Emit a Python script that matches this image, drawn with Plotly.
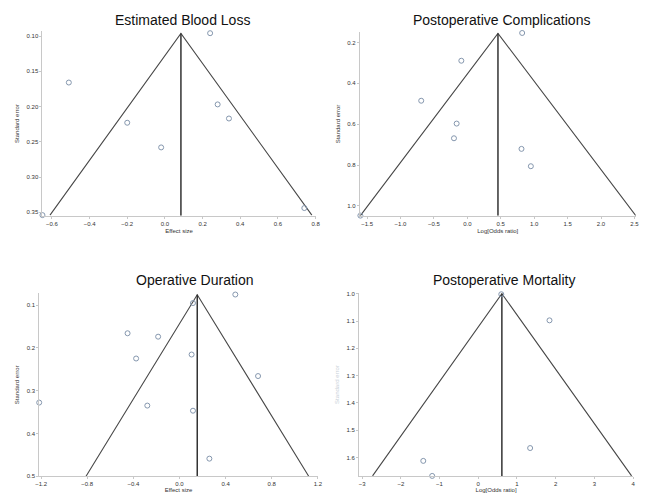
import plotly.graph_objects as go

# ---------------- data ----------------
# Panel 1: Estimated Blood Loss
ebl_effect = [0.24, -0.51, -0.20, -0.02, 0.28, 0.34, 0.74, -0.65]
ebl_se = [0.096, 0.166, 0.223, 0.258, 0.197, 0.217, 0.344, 0.354]
ebl_pooled = 0.085
ebl_se_top, ebl_se_bottom = 0.0963, 0.354
ebl_low, ebl_high = -0.61, 0.78

# Panel 2: Postoperative Complications
pc_logor = [0.82, -0.09, -0.69, -0.16, -0.20, 0.81, 0.95, -1.60]
pc_se = [0.153, 0.289, 0.485, 0.597, 0.669, 0.721, 0.806, 1.048]
pc_pooled = 0.458
pc_se_top, pc_se_bottom = 0.155, 1.048
pc_low, pc_high = -1.60, 2.52

# Panel 3: Operative Duration
od_effect = [0.484, 0.117, -0.45, -0.185, 0.105, -0.376, 0.681, -1.216, -0.279, 0.117, 0.259]
od_se = [0.0755, 0.0954, 0.166, 0.174, 0.2157, 0.225, 0.266, 0.328, 0.335, 0.347, 0.459]
od_pooled = 0.154
od_se_top, od_se_bottom = 0.076, 0.5
od_low, od_high = -0.81, 1.12

# Panel 4: Postoperative Mortality
pm_logor = [0.595, 1.84, 1.34, -1.42, -1.19]
pm_se = [1.002, 1.0976, 1.565, 1.612, 1.667]
pm_pooled = 0.61
pm_se_top, pm_se_bottom = 1.0, 1.667
pm_low, pm_high = -2.73, 3.96

titles = ["Estimated Blood Loss", "Postoperative Complications",
          "Operative Duration", "Postoperative Mortality"]
x_titles = ["Effect size", "Log[Odds ratio]", "Effect size", "Log[Odds ratio]"]
y_title = "Standard error"

panels = [
    dict(x=ebl_effect, y=ebl_se, p=ebl_pooled, t=ebl_se_top, b=ebl_se_bottom, lo=ebl_low, hi=ebl_high,
         xr=[-0.65, 0.8], yr=[0.355, 0.0935], xt=[-0.6, -0.4, -0.2, 0.0, 0.2, 0.4, 0.6, 0.8],
         yt=[0.10, 0.15, 0.20, 0.25, 0.30, 0.35], xf=".1f", yf=".2f",
         xd=[0.0601, 0.4869], yd=[0.5654, 0.9402]),
    dict(x=pc_logor, y=pc_se, p=pc_pooled, t=pc_se_top, b=pc_se_bottom, lo=pc_low, hi=pc_high,
         xr=[-1.61, 2.52], yr=[1.049, 0.149], xt=[-1.5, -1.0, -0.5, 0.0, 0.5, 1.0, 1.5, 2.0, 2.5],
         yt=[0.2, 0.4, 0.6, 0.8, 1.0], xf=".1f", yf=".1f",
         xd=[0.5558, 0.9872], yd=[0.5654, 0.9387]),
    dict(x=od_effect, y=od_se, p=od_pooled, t=od_se_top, b=od_se_bottom, lo=od_low, hi=od_high,
         xr=[-1.216, 1.2], yr=[0.5, 0.073], xt=[-1.2, -0.8, -0.4, 0.0, 0.4, 0.8, 1.2],
         yt=[0.1, 0.2, 0.3, 0.4, 0.5], xf=".1f", yf=".1f",
         xd=[0.055, 0.4905], yd=[0.0362, 0.4076]),
    dict(x=pm_logor, y=pm_se, p=pm_pooled, t=pm_se_top, b=pm_se_bottom, lo=pm_low, hi=pm_high,
         xr=[-3.08, 4.0], yr=[1.668, 0.997], xt=[-3, -2, -1, 0, 1, 2, 3, 4],
         yt=[1.0, 1.1, 1.2, 1.3, 1.4, 1.5, 1.6], xf="d", yf=".1f",
         xd=[0.5547, 0.983], yd=[0.0362, 0.4088]),
]

fig = go.Figure()
line_col = "#484848"
axis_col = "#c8c8c8"
FONT = "Liberation Sans, Arial, sans-serif"
tick_font = dict(family=FONT, size=6, color="#333333")

for i, pn in enumerate(panels, start=1):
    xa = "x" if i == 1 else f"x{i}"
    ya = "y" if i == 1 else f"y{i}"
    # funnel
    fig.add_trace(go.Scatter(x=[pn["lo"], pn["p"], pn["hi"]], y=[pn["b"], pn["t"], pn["b"]],
                             mode="lines", line=dict(color=line_col, width=1.1),
                             xaxis=xa, yaxis=ya, showlegend=False, hoverinfo="skip"))
    # pooled vertical line
    fig.add_trace(go.Scatter(x=[pn["p"], pn["p"]], y=[pn["t"], pn["yr"][0]],
                             mode="lines", line=dict(color="#333333", width=1.5),
                             xaxis=xa, yaxis=ya, showlegend=False, hoverinfo="skip"))
    # studies
    fig.add_trace(go.Scatter(x=pn["x"], y=pn["y"], mode="markers",
                             marker=dict(symbol="circle-open", size=5, color="#8597ae",
                                         line=dict(width=1)),
                             xaxis=xa, yaxis=ya, showlegend=False, cliponaxis=False))
    xk = "xaxis" if i == 1 else f"xaxis{i}"
    yk = "yaxis" if i == 1 else f"yaxis{i}"
    ytitle_col = "#333333" if i != 4 else "#c8d0d8"
    fig.update_layout({
        xk: dict(domain=pn["xd"], range=pn["xr"], anchor=ya, tickvals=pn["xt"], tickformat=pn["xf"],
                 showgrid=False, zeroline=False, showline=True, linecolor=axis_col, linewidth=1,
                 ticks="outside", ticklen=2, tickcolor=axis_col, tickfont=tick_font,
                 title=dict(text=x_titles[i - 1], font=dict(family=FONT, size=6, color="#333333"),
                            standoff=2 if i <= 2 else 0)),
        yk: dict(domain=pn["yd"], range=pn["yr"], anchor=xa, tickvals=pn["yt"], tickformat=pn["yf"],
                 showgrid=False, zeroline=False, showline=True, linecolor=axis_col, linewidth=1,
                 ticks="outside", ticklen=2, tickcolor=axis_col, tickfont=tick_font,
                 title=dict(text=y_title, font=dict(family=FONT, size=6, color=ytitle_col), standoff=6)),
    })

title_pos = [(181 / 649, 1 - 18 / 497), (504 / 649, 1 - 18 / 497),
             (194 / 649, 1 - 281 / 497), (507 / 649, 1 - 281 / 497)]
for (tx, ty), txt in zip(title_pos, titles):
    fig.add_annotation(x=tx, y=ty, xref="paper", yref="paper", text=txt, showarrow=False,
                       xanchor="center", yanchor="middle",
                       font=dict(family=FONT, size=14, color="#111111"))

fig.update_layout(width=649, height=497, margin=dict(l=0, r=0, t=0, b=0),
                  paper_bgcolor="white", plot_bgcolor="white")

fig.write_html("out.html", config={"displayModeBar": False},
               post_script="document.body.style.margin='0';")
